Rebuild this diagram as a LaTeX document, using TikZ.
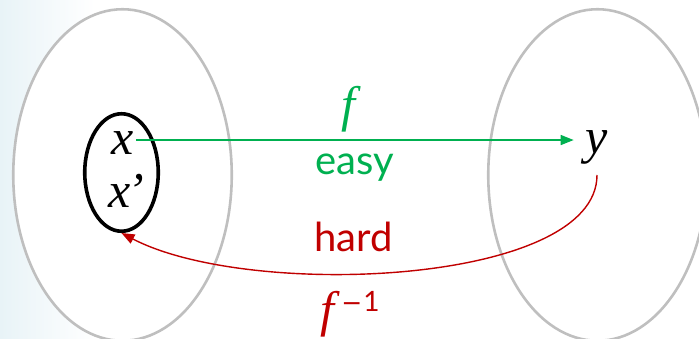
\documentclass[tikz,border=0pt]{standalone}
\usepackage{fontspec}
\setmainfont{Lato}
\newfontfamily\mathfont{Liberation Serif}
\newfontfamily\symfont{DejaVu Sans}
\usetikzlibrary{shapes.geometric,arrows.meta}
\definecolor{pgreen}{RGB}{0,176,80}
\definecolor{pred}{RGB}{192,0,0}
\definecolor{setgray}{RGB}{191,191,191}
\definecolor{bgblue}{RGB}{232,243,247}
\begin{document}
\begin{tikzpicture}[x=1pt,y=-1pt,
  setoval/.style={ellipse, draw=setgray, line width=2.6pt, minimum width=218.5pt, minimum height=331.5pt, inner sep=0pt},
  subset/.style={ellipse, draw=black, line width=3.6pt, minimum width=73.5pt, minimum height=117.5pt, inner sep=0pt},
  varlbl/.style={font=\mathfont\itshape\fontsize{50}{50}\selectfont, inner sep=0pt, anchor=base},
  wordlbl/.style={font=\fontsize{40}{40}\selectfont, inner sep=0pt, anchor=base},
  maparrow/.style={line width=1.4pt, -{Triangle[length=13pt,width=10pt]}},
]
\useasboundingbox (0,0) rectangle (699,339);
\shade[left color=bgblue, right color=white] (0,0) rectangle (95,339);
\fill[white] (122.5,175) ellipse [x radius=109.5pt, y radius=166pt];
\node[setoval] (A) at (122.5,175) {};
\node[setoval] (B) at (597.5,175) {};
\node[subset] (S) at (121.5,172.5) {};
\node[varlbl] (x) at (122.5,155) {x};
\node[varlbl] (xp) at (126,208) {x\kern-3pt’};
\node[varlbl] (y) at (597,154) {y};
\node[varlbl, text=pgreen] (f) at (348,122) {f};
\node[wordlbl, text=pgreen] (easy) at (355,175) {easy};
\node[wordlbl, text=pred] (hard) at (353.5,252) {hard};
\node[varlbl, text=pred] (finv) at (350,326) {f\kern7pt\raisebox{14pt}{\normalfont\upshape\fontsize{25}{25}\selectfont{\symfont −}\kern1pt{\fontsize{28}{28}\selectfont 1}}};
\coordinate (gstart) at ([shift={(2.5,-3.5)}]x.east);
\draw[maparrow, pgreen, shorten >=12pt] (gstart) -- (gstart -| y.west);
\draw[maparrow, pred] ([yshift=-10pt]y.south) .. controls +(0,110) and +(128.5,67) .. (S.south);
\end{tikzpicture}
\end{document}
